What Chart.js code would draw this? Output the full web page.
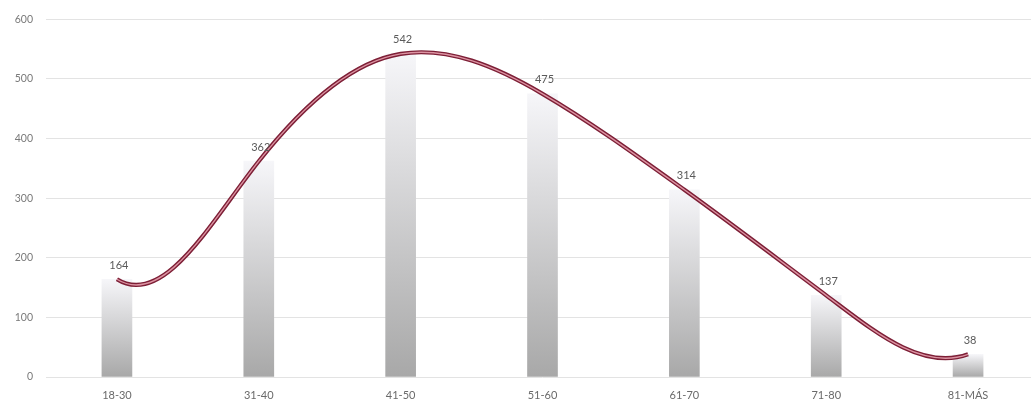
<!DOCTYPE html>
<html>
<head>
<meta charset="utf-8">
<script src="https://cdn.jsdelivr.net/npm/chart.js@4/dist/chart.umd.min.js"></script>
<style>
  html, body { margin: 0; padding: 0; background: #fff; overflow: hidden; }
  #wrap { width: 1040px; height: 406px; position: relative; }
</style>
</head>
<body>
<div id="wrap"><canvas id="chart"></canvas></div>
<script>
// Age groups and counts per group
const ageGroups = ['18-30', '31-40', '41-50', '51-60', '61-70', '71-80', '81-MÁS'];
const ageCounts = [164, 362, 542, 475, 314, 137, 38];
const yTicks = [0, 100, 200, 300, 400, 500, 600];

const FONT = 'Lato, "Open Sans", sans-serif';

// Vertical grey fade per bar: light at the top, grey at the baseline
function barGradient(ctx) {
  const chart = ctx.chart;
  const area = chart.chartArea;
  if (!area || ctx.type !== 'data') return '#d0d0d0';
  const y = chart.scales.y;
  const top = y.getPixelForValue(ctx.raw);
  const bottom = y.getPixelForValue(0);
  const g = chart.ctx.createLinearGradient(0, top, 0, bottom);
  g.addColorStop(0, '#f6f6f9');
  g.addColorStop(1, '#a8a8a8');
  return g;
}

// Slopes of the polynomial trend through all points (Lagrange form, derivative at each node)
function polySlopes(xs, ys) {
  const n = xs.length;
  const w = xs.map((xi, i) => xs.reduce((p, xm, m) => (m === i ? p : p * (xi - xm)), 1));
  return xs.map((xj, j) => {
    let d = 0;
    for (let k = 0; k < n; k++) {
      if (k === j) {
        let s = 0;
        for (let m = 0; m < n; m++) if (m !== j) s += 1 / (xj - xs[m]);
        d += ys[j] * s;
      } else {
        d += ys[k] * (w[j] / w[k]) / (xj - xs[k]);
      }
    }
    return d;
  });
}

// Shape the trend line's bezier handles after the polynomial trend
const trendCurve = {
  id: 'trendCurve',
  beforeDatasetDraw(chart, args) {
    const meta = args.meta;
    if (meta.type !== 'line') return;
    meta.dataset.updateControlPoints(chart.chartArea, 'x');
    const pts = meta.data;
    const xs = pts.map(p => p.x);
    const ys = pts.map(p => p.y);
    const slopes = polySlopes(xs, ys);
    pts.forEach((p, i) => {
      const hPrev = i > 0 ? (xs[i] - xs[i - 1]) / 3 : 0;
      const hNext = i < pts.length - 1 ? (xs[i + 1] - xs[i]) / 3 : 0;
      p.cp1x = xs[i] - hPrev;
      p.cp1y = ys[i] - slopes[i] * hPrev;
      p.cp2x = xs[i] + hNext;
      p.cp2y = ys[i] + slopes[i] * hNext;
    });
    meta.dataset._path = undefined;
  }
};

// Value labels above each bar
const valueLabels = {
  id: 'valueLabels',
  afterDatasetsDraw(chart) {
    const meta = chart.getDatasetMeta(2);
    const c = chart.ctx;
    c.save();
    c.font = '11px ' + FONT;
    c.fillStyle = '#5a5a5a';
    c.textAlign = 'center';
    c.textBaseline = 'middle';
    meta.data.forEach((bar, i) => {
      c.fillText(String(ageCounts[i]), bar.x + 2, bar.y - 14);
    });
    c.restore();
  }
};

new Chart(document.getElementById('chart'), {
  type: 'bar',
  data: {
    labels: ageGroups,
    datasets: [
      {
        type: 'line',
        data: ageCounts,
        borderColor: '#dc93a2',
        borderWidth: 1.4,
        tension: 0.4,
        pointRadius: 0,
        fill: false,
        order: 0
      },
      {
        type: 'line',
        data: ageCounts,
        borderColor: '#7d1f36',
        borderWidth: 4.2,
        tension: 0.4,
        pointRadius: 0,
        fill: false,
        order: 1
      },
      {
        type: 'bar',
        data: ageCounts,
        backgroundColor: barGradient,
        barThickness: 30,
        order: 2
      }
    ]
  },
  options: {
    responsive: true,
    maintainAspectRatio: false,
    animation: false,
    events: [],
    layout: { padding: { top: 15, right: 1, left: 0, bottom: 0 } },
    plugins: { legend: { display: false }, tooltip: { enabled: false } },
    scales: {
      x: {
        grid: { display: false, drawTicks: false },
        border: { display: false },
        ticks: { color: '#6a6a6a', font: { family: FONT, size: 11 }, padding: 12, maxRotation: 0 },
        afterFit(scale) { scale.height = 29; }
      },
      y: {
        min: 0,
        max: 600,
        afterBuildTicks(scale) { scale.ticks = yTicks.map(v => ({ value: v })); },
        grid: { color: '#e3e3e3', lineWidth: 1, drawTicks: false },
        border: { display: false },
        ticks: { color: '#7a7a7a', font: { family: FONT, size: 10.5 }, padding: 13 },
        afterFit(scale) { scale.width = 46; }
      }
    }
  },
  plugins: [trendCurve, valueLabels]
});
</script>
</body>
</html>
